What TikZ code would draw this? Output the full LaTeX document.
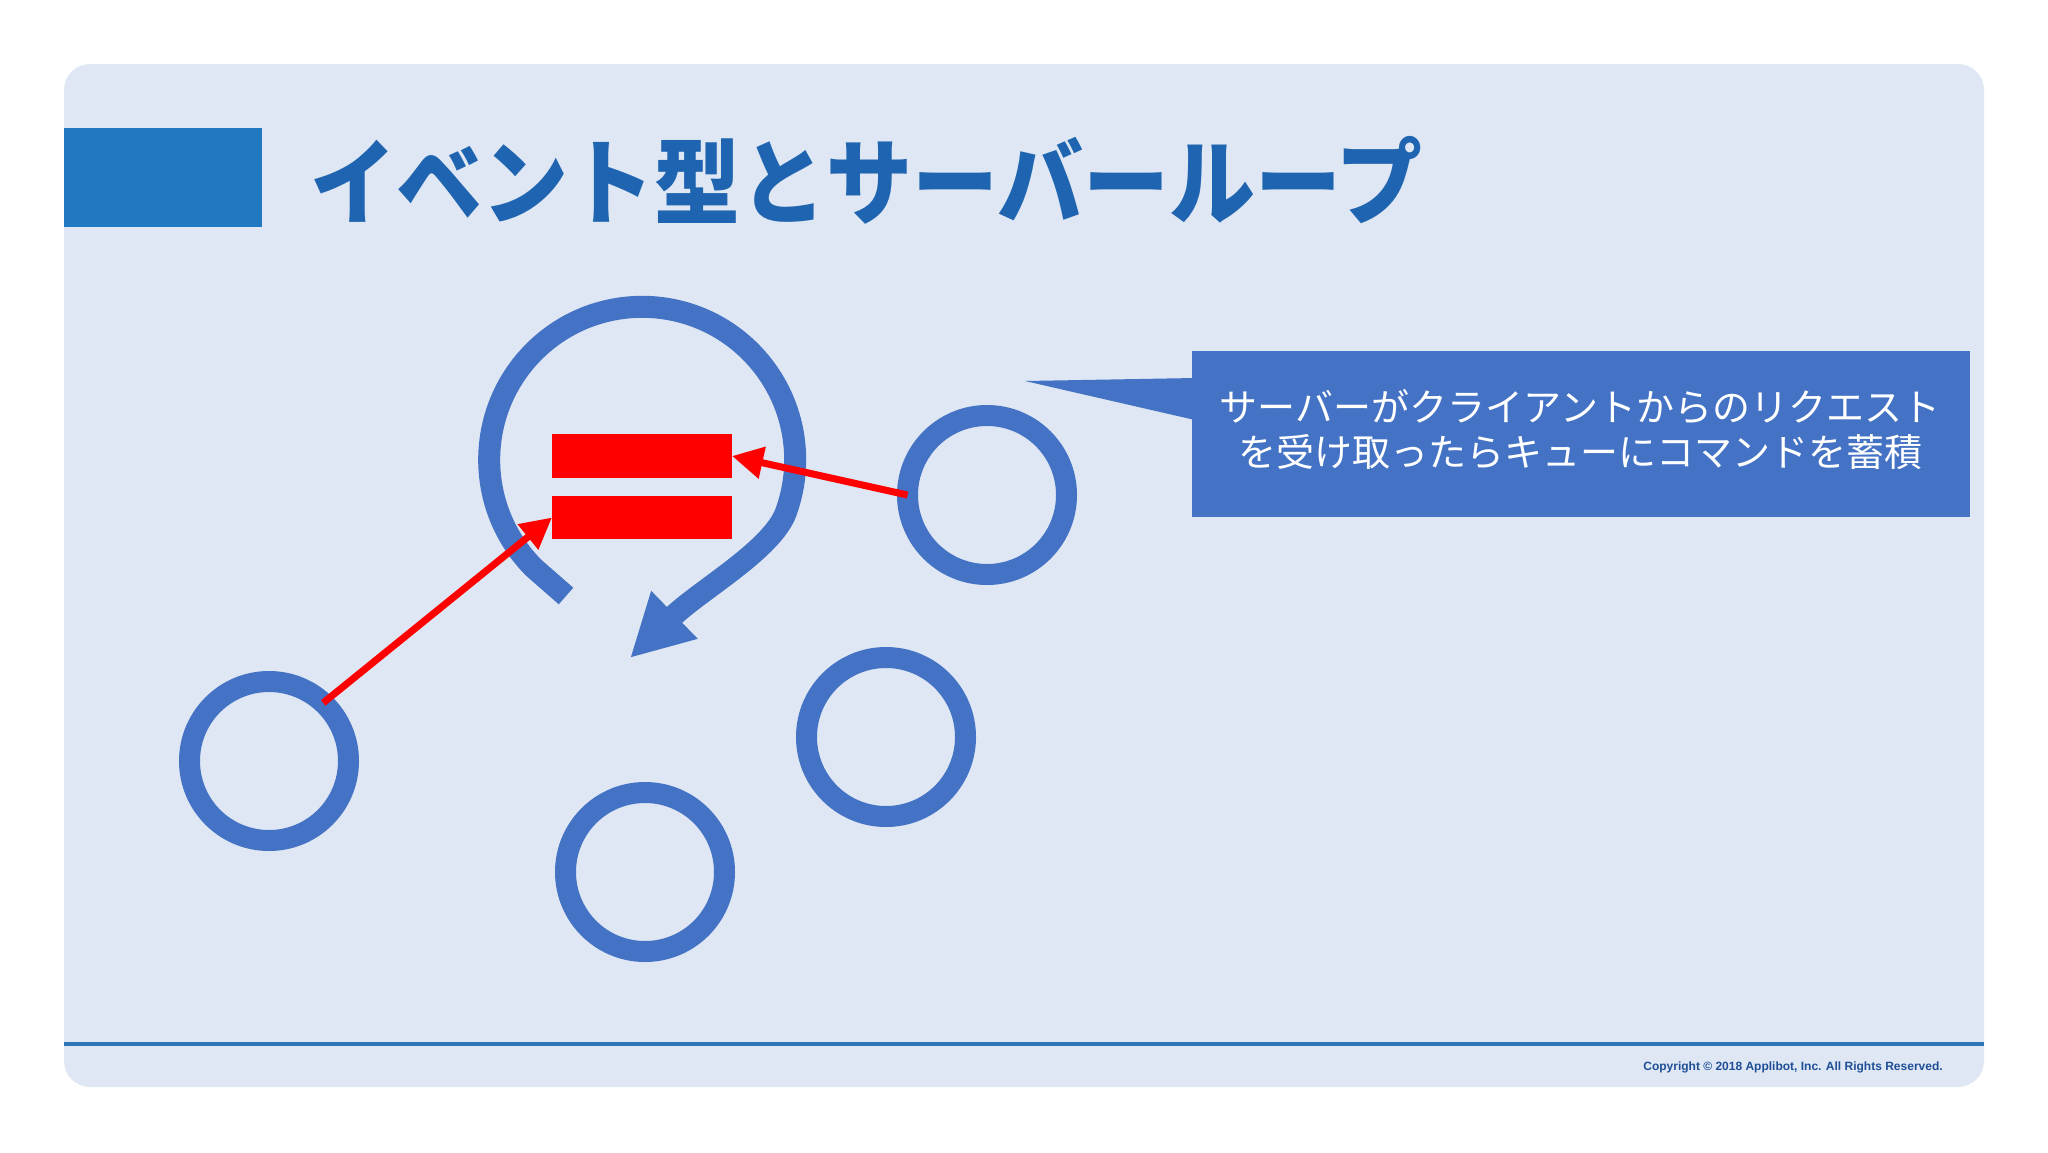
\documentclass[tikz,border=0pt]{standalone}
\usepackage{fontspec}
\newfontfamily\cjk{Noto Sans CJK JP}
\setsansfont{Liberation Sans}
\usetikzlibrary{arrows.meta}
\definecolor{panelbg}{RGB}{222,231,243}
\definecolor{titlebar}{RGB}{33,121,194}
\definecolor{titletext}{RGB}{31,100,176}
\definecolor{loopblue}{RGB}{68,114,196}
\definecolor{footerblue}{RGB}{46,117,182}
\definecolor{copyblue}{RGB}{31,78,150}
\tikzset{
  ring/.style={circle, draw=loopblue, line width=21pt, minimum size=159pt, inner sep=0pt, outer sep=0pt},
  redbar/.style={fill=red, inner sep=0pt, outer sep=0pt, minimum width=180pt},
  redarrow/.style={draw=red, line width=7pt, -{Triangle[length=31pt,width=31pt]}},
  calloutbox/.style={fill=loopblue, minimum width=778pt, minimum height=166pt, inner sep=0pt},
  callouttext/.style={inner sep=0pt, text=white, align=center, font=\cjk\fontsize{38}{45}\selectfont}
}
\begin{document}
\begin{tikzpicture}[x=1pt,y=1pt]
\useasboundingbox (0,0) rectangle (2048,-1152);
\fill[white] (0,0) rectangle (2048,-1152);
\fill[panelbg, rounded corners=26pt] (64,-64) rectangle (1984,-1087);
% title
\fill[titlebar] (64,-128) rectangle (262,-227);
\node[anchor=west, inner sep=0pt, text=titletext, font=\cjk\bfseries\fontsize{86}{100}\selectfont] (title) at (310,-180) {\scalebox{1}[1.09]{イベント型とサーバーループ}};
% footer
\coordinate (fl) at (64,-1044);
\coordinate (fr) at (1984,-1044);
\draw[footerblue, line width=4pt] (fl) -- (fr);
\node[text=copyblue, font=\sffamily\bfseries\fontsize{12}{14}\selectfont, inner sep=0pt] (copy) at (1793,-1067) {Copyright © 2018 Applibot, Inc. All Rights Reserved.};
% loop arrow
\coordinate (loopTail) at (566,-596);
\coordinate (loopTip) at (630,-658);
\draw[loopblue, line width=22pt, -{Triangle[length=62pt,width=62pt]}] (loopTail) -- (534,-568) arc[start angle=225, end angle=-20, radius=153] .. controls (772,-550) and (700,-590) .. (loopTip);
% queue bars
\node[redbar, minimum height=44pt] (q1) at (642,-456) {};
\node[redbar, minimum height=43pt] (q2) at (642,-517.5) {};
% clients
\node[ring] (cA) at (269,-761) {};
\node[ring] (cB) at (987,-495) {};
\node[ring] (cC) at (645,-872) {};
\node[ring] (cD) at (886,-737) {};
% requests
\draw[redarrow] (cB.west) -- (q1.east);
\draw[redarrow] (cA.47) -- (q2.west);
% callout
\node[calloutbox] (note) at (1581,-434) {};
\node[callouttext] (notetext) at (1580,-430) {サーバーがクライアントからのリクエスト\\を受け取ったらキューにコマンドを蓄積};
\coordinate (ptip) at (1025,-381);
\fill[loopblue] (ptip) -- (1195,-378) -- (1195,-420) -- cycle;
\end{tikzpicture}
\end{document}
